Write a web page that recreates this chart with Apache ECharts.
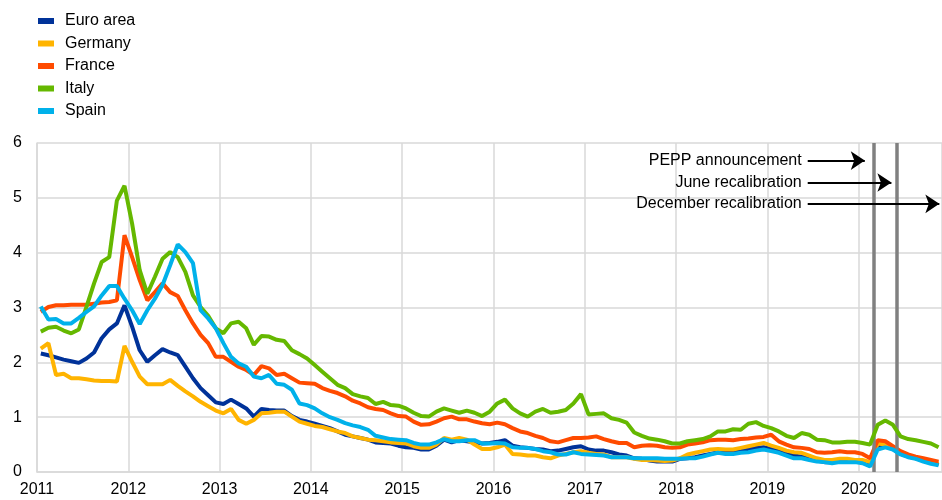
<!DOCTYPE html>
<html>
<head>
<meta charset="utf-8">
<script src="https://cdn.jsdelivr.net/npm/echarts@6/dist/echarts.min.js"></script>
<style>
  body { margin: 0; padding: 0; background: #fff; }
  #chart { width: 942px; height: 500px; }
</style>
</head>
<body>
<div id="chart"></div>
<script>
// monthly values, Jan 2011 - Nov 2020
const euroArea = [
  2.16, 2.13, 2.09, 2.05, 2.02, 1.99, 2.07, 2.18, 2.44, 2.60, 2.71, 3.04,
  2.65, 2.22, 2.01, 2.13, 2.24, 2.18, 2.13, 1.92, 1.71, 1.53, 1.40, 1.27,
  1.24, 1.32, 1.24, 1.16, 1.01, 1.15, 1.13, 1.12, 1.12, 1.02, 0.95, 0.92,
  0.88, 0.84, 0.80, 0.74, 0.68, 0.65, 0.62, 0.59, 0.54, 0.53, 0.52, 0.48,
  0.45, 0.44, 0.41, 0.41, 0.48, 0.59, 0.54, 0.58, 0.56, 0.54, 0.52, 0.53,
  0.55, 0.58, 0.48, 0.45, 0.44, 0.42, 0.41, 0.38, 0.39, 0.42, 0.45, 0.47,
  0.41, 0.39, 0.39, 0.36, 0.32, 0.30, 0.25, 0.24, 0.21, 0.19, 0.19, 0.19,
  0.24, 0.25, 0.27, 0.30, 0.33, 0.36, 0.36, 0.35, 0.38, 0.41, 0.44, 0.45,
  0.42, 0.38, 0.33, 0.30, 0.28, 0.25, 0.21, 0.18, 0.18, 0.19, 0.21, 0.21,
  0.19, 0.13, 0.47, 0.50, 0.42, 0.33, 0.28, 0.25, 0.21, 0.18, 0.13
];
const germany = [
  2.25, 2.35, 1.77, 1.79, 1.71, 1.71, 1.69, 1.67, 1.66, 1.66, 1.65, 2.30,
  2.01, 1.74, 1.60, 1.60, 1.60, 1.68, 1.57, 1.47, 1.38, 1.28, 1.20, 1.12,
  1.07, 1.15, 0.95, 0.88, 0.95, 1.07, 1.08, 1.10, 1.10, 1.01, 0.92, 0.88,
  0.84, 0.82, 0.78, 0.74, 0.71, 0.65, 0.62, 0.59, 0.58, 0.56, 0.54, 0.53,
  0.52, 0.47, 0.44, 0.44, 0.50, 0.62, 0.59, 0.62, 0.59, 0.50, 0.42, 0.42,
  0.45, 0.50, 0.33, 0.32, 0.30, 0.30, 0.27, 0.25, 0.30, 0.33, 0.36, 0.38,
  0.35, 0.33, 0.32, 0.27, 0.27, 0.27, 0.24, 0.22, 0.22, 0.21, 0.20, 0.21,
  0.25, 0.32, 0.35, 0.38, 0.41, 0.42, 0.41, 0.41, 0.44, 0.47, 0.50, 0.53,
  0.48, 0.44, 0.39, 0.36, 0.35, 0.30, 0.25, 0.22, 0.22, 0.24, 0.24, 0.22,
  0.22, 0.18, 0.52, 0.50, 0.44, 0.35, 0.30, 0.25, 0.22, 0.19, 0.15
];
const france = [
  2.92, 3.01, 3.04, 3.04, 3.05, 3.05, 3.05, 3.07, 3.09, 3.10, 3.13, 4.32,
  3.92, 3.50, 3.13, 3.28, 3.44, 3.28, 3.21, 2.95, 2.71, 2.50, 2.35, 2.10,
  2.10, 2.01, 1.92, 1.86, 1.77, 1.93, 1.89, 1.77, 1.79, 1.71, 1.63, 1.62,
  1.61, 1.53, 1.48, 1.44, 1.38, 1.30, 1.25, 1.18, 1.15, 1.13, 1.07, 1.02,
  1.01, 0.92, 0.86, 0.87, 0.92, 0.98, 1.01, 0.96, 0.96, 0.92, 0.89, 0.87,
  0.90, 0.87, 0.80, 0.74, 0.71, 0.66, 0.62, 0.56, 0.54, 0.58, 0.62, 0.62,
  0.63, 0.65, 0.60, 0.56, 0.53, 0.53, 0.45, 0.48, 0.49, 0.48, 0.45, 0.44,
  0.45, 0.50, 0.52, 0.54, 0.58, 0.59, 0.59, 0.58, 0.60, 0.61, 0.63, 0.64,
  0.68, 0.56, 0.50, 0.45, 0.44, 0.42, 0.36, 0.35, 0.36, 0.38, 0.36, 0.36,
  0.33, 0.25, 0.58, 0.56, 0.47, 0.38, 0.32, 0.28, 0.25, 0.22, 0.19
];
const italy = [
  2.56, 2.63, 2.65, 2.58, 2.53, 2.60, 3.01, 3.44, 3.83, 3.92, 4.95, 5.22,
  4.53, 3.68, 3.25, 3.56, 3.89, 4.01, 3.92, 3.65, 3.22, 3.01, 2.85, 2.62,
  2.53, 2.71, 2.74, 2.62, 2.32, 2.48, 2.47, 2.41, 2.39, 2.22, 2.15, 2.07,
  1.95, 1.83, 1.71, 1.59, 1.53, 1.42, 1.38, 1.35, 1.24, 1.28, 1.22, 1.21,
  1.16, 1.08, 1.02, 1.01, 1.10, 1.16, 1.12, 1.08, 1.12, 1.08, 1.02, 1.10,
  1.25, 1.32, 1.16, 1.07, 1.01, 1.10, 1.15, 1.08, 1.10, 1.13, 1.25, 1.42,
  1.05, 1.06, 1.07, 0.98, 0.95, 0.90, 0.72, 0.66, 0.61, 0.59, 0.56, 0.52,
  0.52, 0.56, 0.58, 0.60, 0.65, 0.74, 0.74, 0.78, 0.77, 0.88, 0.91, 0.84,
  0.80, 0.74, 0.66, 0.62, 0.71, 0.68, 0.59, 0.58, 0.54, 0.54, 0.55, 0.55,
  0.53, 0.50, 0.86, 0.94, 0.86, 0.65, 0.60, 0.58, 0.55, 0.52, 0.45
];
const spain = [
  3.02, 2.78, 2.79, 2.71, 2.71, 2.81, 2.92, 3.02, 3.22, 3.39, 3.39, 3.16,
  2.95, 2.70, 2.95, 3.16, 3.41, 3.77, 4.15, 4.01, 3.81, 2.95, 2.80, 2.62,
  2.35, 2.10, 1.98, 1.92, 1.74, 1.71, 1.77, 1.61, 1.59, 1.50, 1.25, 1.22,
  1.16, 1.07, 1.00, 0.95, 0.89, 0.85, 0.82, 0.77, 0.66, 0.63, 0.60, 0.59,
  0.58, 0.53, 0.50, 0.50, 0.54, 0.60, 0.56, 0.56, 0.58, 0.58, 0.52, 0.52,
  0.53, 0.52, 0.45, 0.44, 0.44, 0.42, 0.38, 0.36, 0.32, 0.32, 0.36, 0.33,
  0.32, 0.31, 0.30, 0.27, 0.27, 0.27, 0.25, 0.25, 0.25, 0.25, 0.24, 0.24,
  0.24, 0.25, 0.25, 0.28, 0.32, 0.35, 0.33, 0.33, 0.35, 0.36, 0.39, 0.41,
  0.38, 0.35, 0.30, 0.25, 0.25, 0.22, 0.19, 0.18, 0.16, 0.18, 0.18, 0.18,
  0.16, 0.10, 0.41, 0.45, 0.41, 0.32, 0.27, 0.24, 0.19, 0.15, 0.12
];
const seriesNames = ["Euro area", "Germany", "France", "Italy", "Spain"];
const seriesColors = ["#003299", "#ffb400", "#ff4b00", "#65b800", "#00b1ea"];
const firstYear = 2011;

// event lines (months since Jan 2011) and arrow labels
const eventLines = [110.0, 113.0];
const arrows = [
  { text: "PEPP announcement", y: 5.68, from: 101.3, to: 108.8 },
  { text: "June recalibration", y: 5.28, from: 101.3, to: 112.3 },
  { text: "December recalibration", y: 4.89, from: 101.3, to: 118.6 },
];

const font = "Liberation Sans, Arial, sans-serif";
const allData = [euroArea, germany, france, italy, spain];

// month i is drawn in the middle of its month
function toPoints(arr) {
  return arr.map((v, i) => [i + 0.5, v]);
}

let series = allData.map((arr, k) => ({
  name: seriesNames[k],
  type: "line",
  data: toPoints(arr),
  showSymbol: false,
  symbol: "none",
  lineStyle: { width: 4, color: seriesColors[k] },
  itemStyle: { color: seriesColors[k] },
  z: 2 + k,
}));

// annotations on top
series.push({
  name: "events",
  type: "line",
  data: [],
  z: 10,
  markLine: {
    silent: true,
    animation: false,
    symbol: "none",
    lineStyle: { color: "#808080", width: 3.5, type: "solid" },
    label: { show: false },
    data: eventLines.map((x) => ({ xAxis: x })),
  },
});
series.push({
  name: "arrows",
  type: "line",
  data: [],
  z: 10,
  markLine: {
    silent: true,
    animation: false,
    symbol: ["none", "arrow"],
    symbolSize: 14,
    lineStyle: { color: "#000", width: 2, type: "solid" },
    label: {
      show: true,
      position: "start",
      distance: 6,
      color: "#000",
      fontSize: 16,
      fontFamily: font,
      formatter: (p) => p.name,
    },
    data: arrows.map((a) => [
      { name: a.text, coord: [a.from, a.y] },
      { coord: [a.to, a.y] },
    ]),
  },
});

const chart = echarts.init(document.getElementById("chart"));
chart.setOption({
  animation: false,
  textStyle: { fontFamily: font },
  legend: {
    orient: "vertical",
    left: 38,
    top: 13,
    padding: 0,
    itemWidth: 16,
    itemHeight: 6,
    itemGap: 6.5,
    icon: "rect",
    data: seriesNames,
    textStyle: { fontSize: 16, color: "#000", fontFamily: font, padding: [0, 0, 0, 6] },
  },
  grid: { left: 37, right: -2, top: 143, bottom: 28 },
  xAxis: {
    type: "value",
    min: 0,
    max: 118.95,
    interval: 12,
    axisLine: { show: true, lineStyle: { color: "#d9d9d9", width: 1.5 } },
    axisTick: { show: false },
    axisLabel: {
      fontSize: 16,
      color: "#000",
      margin: 10,
      showMaxLabel: false,
      formatter: (v) => (v % 12 === 0 ? String(firstYear + v / 12) : ""),
    },
    splitLine: { show: true, lineStyle: { color: "#d9d9d9", width: 1.5 } },
  },
  yAxis: {
    type: "value",
    min: 0,
    max: 6,
    interval: 1,
    axisLine: { show: true, lineStyle: { color: "#d9d9d9", width: 1.5 } },
    axisTick: { show: false },
    axisLabel: { fontSize: 16, color: "#000", margin: 15 },
    splitLine: { show: true, lineStyle: { color: "#d9d9d9", width: 1.5 } },
  },
  series: series,
});
</script>
</body>
</html>
